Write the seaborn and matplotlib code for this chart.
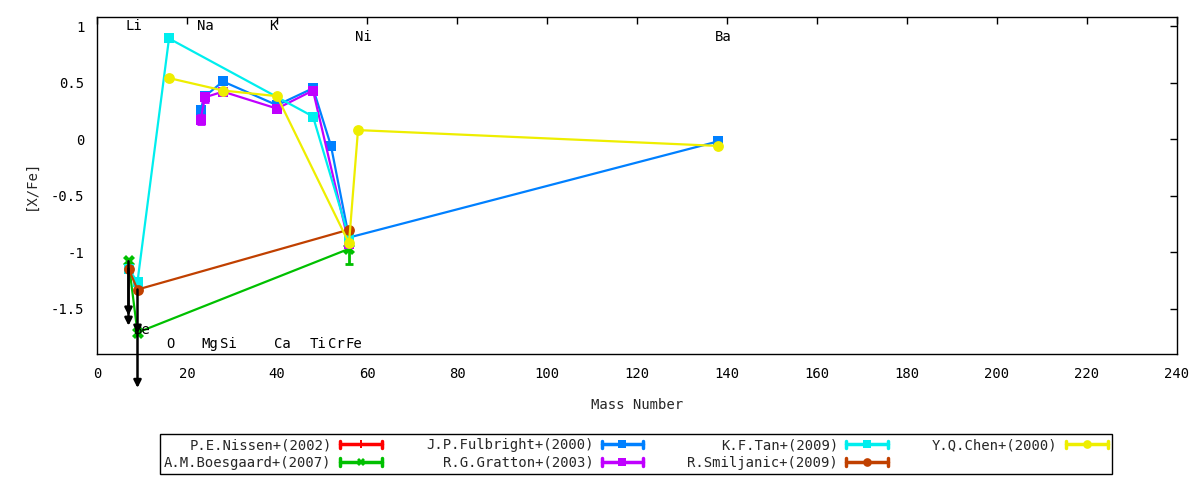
import numpy as np
import matplotlib
matplotlib.use("Agg")
import matplotlib.pyplot as plt
from matplotlib.lines import Line2D
from matplotlib.legend_handler import HandlerBase
import seaborn as sns

# ---------------- data ----------------
series_names = ["P.E.Nissen+(2002)", "A.M.Boesgaard+(2007)", "J.P.Fulbright+(2000)",
                "R.G.Gratton+(2003)", "K.F.Tan+(2009)", "R.Smiljanic+(2009)", "Y.Q.Chen+(2000)"]

nissen_mass = []
nissen_val = []
nissen_err = []

boesgaard_mass = [7, 9, 56]
boesgaard_val = [-1.08, -1.71, -0.97]
boesgaard_err = [0.0, 0.0, 0.13]

fulbright_mass = [23, 24, 28, 40, 48, 52, 56, 138]
fulbright_val = [0.26, 0.38, 0.51, 0.30, 0.45, -0.06, -0.87, -0.02]
fulbright_err = [0, 0, 0, 0, 0, 0, 0, 0]

gratton_mass = [23, 24, 28, 40, 48, 56]
gratton_val = [0.17, 0.37, 0.42, 0.27, 0.43, -0.93]
gratton_err = [0.04, 0.04, 0, 0, 0, 0]

tan_mass = [7, 9, 16, 48, 56]
tan_val = [-1.15, -1.26, 0.89, 0.20, -0.87]
tan_err = [0, 0, 0, 0, 0]

smiljanic_mass = [7, 9, 56]
smiljanic_val = [-1.145, -1.33, -0.80]
smiljanic_err = [0, 0, 0]

chen_mass = [16, 28, 40, 56, 58, 138]
chen_val = [0.54, 0.43, 0.38, -0.92, 0.08, -0.06]
chen_err = [0, 0, 0, 0, 0, 0]

# upper limits (arrows)
limit_mass = [7, 7, 9, 9]
limit_from = [-1.145, -1.08, -1.33, -1.71]
limit_to = [-1.56, -1.65, -1.72, -2.20]

# element labels
elem_names = ["Li", "Be", "O", "Na", "Mg", "Si", "K", "Ca", "Ti", "Cr", "Fe", "Ni", "Ba"]
elem_mass = [7, 9, 16, 23, 24, 28, 39, 40, 48, 52, 56, 58, 138]
elem_y = [1.0, -1.69, -1.81, 1.0, -1.81, -1.81, 1.0, -1.81, -1.81, -1.81, -1.81, 0.9, 0.9]

x_ticks = [0, 20, 40, 60, 80, 100, 120, 140, 160, 180, 200, 220, 240]
y_ticks = [-1.5, -1.0, -0.5, 0.0, 0.5, 1.0]
y_tick_labels = ["-1.5", "-1", "-0.5", "0", "0.5", "1"]

# ---------------- style ----------------
sns.set_theme(style="white")
plt.rcParams["font.family"] = ["DejaVu Sans Mono", "DejaVu Sans"]
plt.rcParams["axes.unicode_minus"] = False
FS = 10

colors = ["#ff0000", "#00c000", "#0080ff", "#c000ff", "#00eeee", "#c04000", "#eeee00"]
markers = ["P", "X", "s", "s", "s", "o", "o"]
msizes = [8, 8, 7.2, 7.2, 7.2, 7.8, 7.8]

all_mass = [nissen_mass, boesgaard_mass, fulbright_mass, gratton_mass, tan_mass, smiljanic_mass, chen_mass]
all_val = [nissen_val, boesgaard_val, fulbright_val, gratton_val, tan_val, smiljanic_val, chen_val]
all_err = [nissen_err, boesgaard_err, fulbright_err, gratton_err, tan_err, smiljanic_err, chen_err]

fig = plt.figure(figsize=(12, 4.8), dpi=100)
ax = fig.add_axes([97 / 1200, 1 - 354 / 480, 1080 / 1200, 337 / 480])

for name, xs, ys, es, c, m, ms in zip(series_names, all_mass, all_val, all_err, colors, markers, msizes):
    if len(xs) == 0:
        continue
    xa, ya, ea = np.asarray(xs, float), np.asarray(ys, float), np.asarray(es, float)
    sel = ea > 0
    if sel.any():
        ax.errorbar(xa[sel], ya[sel], yerr=ea[sel], fmt="none", ecolor=c,
                    elinewidth=2, capsize=3, capthick=2)
    sns.lineplot(x=xs, y=ys, ax=ax, color=c, marker=m, markersize=ms, markeredgewidth=0,
                 linewidth=1.6, estimator=None, sort=True, legend=False)

for xm, y0, y1 in zip(limit_mass, limit_from, limit_to):
    ax.annotate("", xy=(xm, y1), xytext=(xm, y0), xycoords="data", textcoords="data",
                annotation_clip=False,
                arrowprops=dict(arrowstyle="-|>", color="black", lw=1.8, mutation_scale=11,
                                shrinkA=0, shrinkB=0), zorder=5)

for nm, xm, yy in zip(elem_names, elem_mass, elem_y):
    ax.text(xm - 0.7, yy, nm, ha="left", va="center", fontsize=FS, color="black", zorder=6)

ax.set_xlim(0, 240)
ax.set_ylim(-1.9, 1.08)
ax.set_xticks(x_ticks)
ax.set_xticklabels([str(t) for t in x_ticks])
ax.set_yticks(y_ticks)
ax.set_yticklabels(y_tick_labels)
ax.tick_params(direction="in", length=5, width=1, top=True, right=True,
               labelsize=FS, pad=9, colors="black")
for sp in ax.spines.values():
    sp.set_color("black")
    sp.set_linewidth(1)
ax.set_xlabel("")
ax.set_ylabel("")
ax.grid(False)

fig.text(637 / 1200, 1 - 405 / 480, "Mass Number", ha="center", va="center", fontsize=FS)
fig.text(31 / 1200, 1 - 185 / 480, "[X/Fe]", ha="center", va="center", rotation=90, fontsize=FS)


class GnuplotErrHandler(HandlerBase):
    def create_artists(self, legend, orig_handle, xdescent, ydescent, width, height, fontsize, trans):
        c = orig_handle.get_color()
        y = height / 2.0 - ydescent
        x0 = -xdescent
        x1 = x0 + width
        cap = height * 0.38
        line = Line2D([x0, x1], [y, y], color=c, lw=2.5)
        caps = Line2D([x0, x0, np.nan, x1, x1], [y - cap, y + cap, np.nan, y - cap, y + cap],
                      color=c, lw=2.5)
        mk = Line2D([(x0 + x1) / 2], [y], marker=orig_handle.get_marker(), color=c,
                    markersize=orig_handle.get_markersize(), markeredgewidth=0, linestyle="none")
        for a in (line, caps, mk):
            a.set_transform(trans)
        return [line, caps, mk]


handles = [Line2D([], [], color=c, marker=m, markersize=ms * 0.8) for c, m, ms in zip(colors, markers, msizes)]
leg = fig.legend(handles, series_names, handler_map={Line2D: GnuplotErrHandler()},
                 ncol=4, markerfirst=False, loc="center", mode="expand",
                 bbox_to_anchor=(160 / 1200, 6 / 480, 952 / 1200, 40 / 480),
                 frameon=True, fancybox=False, framealpha=1, edgecolor="black",
                 fontsize=FS, handlelength=3.0, handletextpad=0.6, borderpad=0.3,
                 labelspacing=0.25, columnspacing=1.0, borderaxespad=0)
leg.get_frame().set_linewidth(1)

fig.savefig("out.png", dpi=100, facecolor="white")
